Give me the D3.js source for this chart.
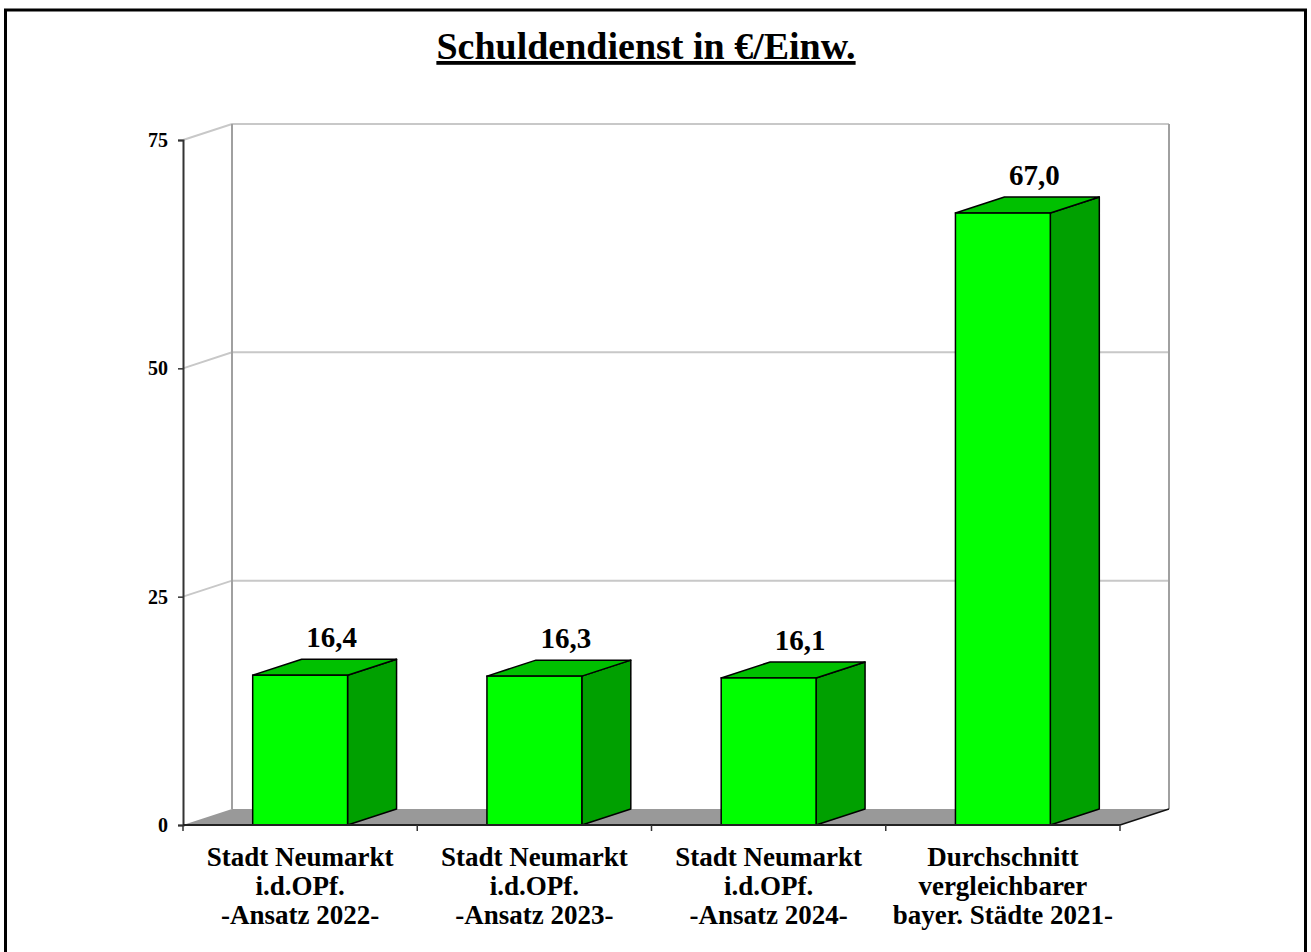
<!DOCTYPE html>
<html>
<head>
<meta charset="utf-8">
<script src="https://cdn.jsdelivr.net/npm/d3@7"></script>
<style>
  body { margin: 0; background: #fff; }
  svg text { font-family: "Liberation Serif", "Times New Roman", serif; font-weight: bold; }
</style>
</head>
<body>
<svg id="chart" width="1311" height="952"></svg>
<script>
// chart data
var categories = ["cat1", "cat2", "cat3", "cat4"];
var categoryLabels = [
    ["Stadt Neumarkt", "i.d.OPf.", "-Ansatz 2022-"],
    ["Stadt Neumarkt", "i.d.OPf.", "-Ansatz 2023-"],
    ["Stadt Neumarkt", "i.d.OPf.", "-Ansatz 2024-"],
    ["Durchschnitt", "vergleichbarer", "bayer. Städte 2021-"]
];
var values = [16.4, 16.3, 16.1, 67.0];
var yTicks = [0, 25, 50, 75];
var title = "Schuldendienst in €/Einw.";

var svg = d3.select("#chart"),
    width = +svg.attr("width"),
    height = +svg.attr("height");

// 3d depth offset
var dx = 49, dy = -16;

var x = d3.scaleBand()
    .domain(categories)
    .range([183, 1120])
    .padding(0);

var y = d3.scaleLinear()
    .domain([0, 75])
    .range([825, 140]);

var barW = x.bandwidth() * 0.405;
var fmt = function (v) { return d3.format(".1f")(v).replace(".", ","); };

// outer frame
svg.append("rect")
    .attr("x", 5.5).attr("y", 10)
    .attr("width", 1300).attr("height", 960)
    .attr("fill", "none")
    .attr("stroke", "#000")
    .attr("stroke-width", 3);

// title
svg.append("text")
    .attr("x", 646).attr("y", 59)
    .attr("text-anchor", "middle")
    .style("font-size", "38px")
    .style("text-decoration", "underline")
    .text(title);

var x0 = x.range()[0], x1 = x.range()[1];

// walls: gridlines on left and back wall
var grid = svg.append("g").attr("class", "grid");
yTicks.filter(function (t) { return t > 0; }).forEach(function (t) {
    grid.append("polyline")
        .attr("points", [[x0, y(t)], [x0 + dx, y(t) + dy], [x1 + dx, y(t) + dy]].join(" "))
        .attr("fill", "none")
        .attr("stroke", "#c8c8c8")
        .attr("stroke-width", 2);
});
grid.selectAll("line.wall")
    .data([x0 + dx, x1 + dx])
    .enter().append("line")
    .attr("class", "wall")
    .attr("x1", function (d) { return d; })
    .attr("x2", function (d) { return d; })
    .attr("y1", y(75) + dy)
    .attr("y2", y(0) + dy)
    .attr("stroke", "#a0a0a0")
    .attr("stroke-width", 2);

// floor
svg.append("polygon")
    .attr("points", [[x0, y(0)], [x1, y(0)], [x1 + dx, y(0) + dy], [x0 + dx, y(0) + dy]].join(" "))
    .attr("fill", "#999999");
svg.append("line")
    .attr("x1", x1).attr("y1", y(0))
    .attr("x2", x1 + dx).attr("y2", y(0) + dy)
    .attr("stroke", "#111").attr("stroke-width", 1.5);

// bars
var bars = svg.append("g").attr("class", "bars")
    .selectAll("g")
    .data(values)
    .enter().append("g");

function bx(d, i) { return x(categories[i]) + (x.bandwidth() - barW) / 2; }

// side face
bars.append("polygon")
    .attr("points", function (d, i) {
        var l = bx(d, i) + barW;
        return [[l, y(d)], [l + dx, y(d) + dy], [l + dx, y(0) + dy], [l, y(0)]].join(" ");
    })
    .attr("fill", "#00a000")
    .attr("stroke", "#000")
    .attr("stroke-width", 1.5)
    .attr("stroke-linejoin", "round");

// top face
bars.append("polygon")
    .attr("points", function (d, i) {
        var l = bx(d, i);
        return [[l, y(d)], [l + dx, y(d) + dy], [l + barW + dx, y(d) + dy], [l + barW, y(d)]].join(" ");
    })
    .attr("fill", "#00c000")
    .attr("stroke", "#000")
    .attr("stroke-width", 1.5)
    .attr("stroke-linejoin", "round");

// front face
bars.append("rect")
    .attr("x", bx)
    .attr("y", function (d) { return y(d); })
    .attr("width", barW)
    .attr("height", function (d) { return y(0) - y(d); })
    .attr("fill", "#00ff00")
    .attr("stroke", "#000")
    .attr("stroke-width", 1.5);

// value labels
bars.append("text")
    .attr("x", function (d, i) { return bx(d, i) + barW / 2 + dx / 2 + 7; })
    .attr("y", function (d) { return y(d) + dy - 12; })
    .attr("text-anchor", "middle")
    .style("font-size", "29px")
    .text(function (d) { return fmt(d); });

// y axis
var yAxis = svg.append("g")
    .attr("transform", "translate(" + x0 + ",0)")
    .call(d3.axisLeft(y).tickValues(yTicks).tickSize(5).tickPadding(10));
yAxis.select(".domain").attr("stroke", "#333").attr("stroke-width", 2);
yAxis.selectAll(".tick line").attr("stroke", "#333").attr("stroke-width", 1.5);
yAxis.selectAll(".tick text")
    .style("font-size", "20px")
    .attr("fill", "#000")
    .attr("dy", "0.32em");

// x axis
svg.append("line")
    .attr("x1", x0).attr("x2", x1)
    .attr("y1", y(0)).attr("y2", y(0))
    .attr("stroke", "#222").attr("stroke-width", 2);
svg.selectAll("line.xtick")
    .data(d3.range(categories.length + 1))
    .enter().append("line")
    .attr("class", "xtick")
    .attr("x1", function (i) { return x0 + i * x.bandwidth(); })
    .attr("x2", function (i) { return x0 + i * x.bandwidth(); })
    .attr("y1", y(0))
    .attr("y2", y(0) + 6)
    .attr("stroke", "#333")
    .attr("stroke-width", 1.5);

// category labels
var catText = svg.append("g").selectAll("text")
    .data(categoryLabels)
    .enter().append("text")
    .attr("text-anchor", "middle")
    .style("font-size", "27px");
catText.selectAll("tspan")
    .data(function (d, i) { return d.map(function (s) { return { s: s, i: i }; }); })
    .enter().append("tspan")
    .attr("x", function (d) { return x(categories[d.i]) + x.bandwidth() / 2; })
    .attr("y", function (d, j) { return 866 + j * 29; })
    .text(function (d) { return d.s; });
</script>
</body>
</html>
